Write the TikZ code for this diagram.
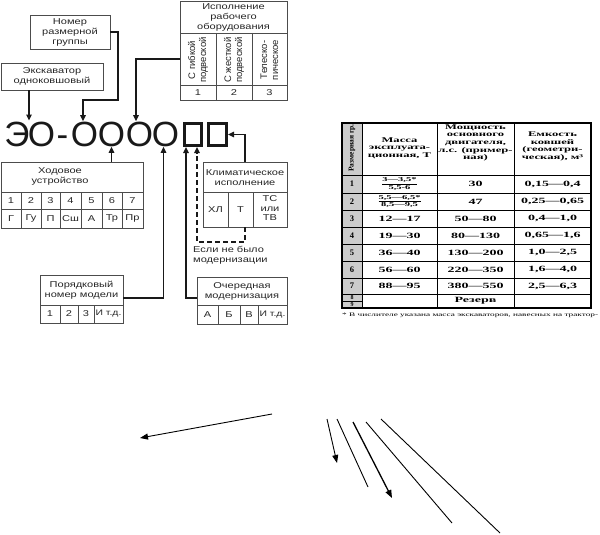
\documentclass[tikz,border=0pt]{standalone}
\usepackage{fontspec}
\setmainfont{Liberation Sans}
\newfontfamily\lblfont[FakeStretch=1.3]{Liberation Sans}
\newfontfamily\tabfont[FakeStretch=1.75]{Liberation Serif}
\newfontfamily\tabfontn{Liberation Serif}
\usetikzlibrary{arrows.meta}
\begin{document}
\begin{tikzpicture}[x=1pt,y=-1pt,
 box/.style={draw=black!70, line width=0.7pt, inner sep=0pt, rectangle},
 grid/.style={draw=black!70, line width=0.6pt},
 lbl/.style={font=\lblfont\fontsize{8.5}{10}\selectfont, text=black!85, align=center, inner sep=0pt},
 rlbl/.style={font=\fontsize{9.5}{11}\selectfont, text=black!85, align=center, inner sep=0pt, rotate=90},
 conn/.style={line width=1.5pt, draw=black!90, -{Triangle[length=6pt,width=5.5pt]}},
 big/.style={font=\fontsize{35}{35}\selectfont, inner sep=0pt, text height=25.2pt, text depth=0pt, text=black!90},
 sq/.style={draw=black!90, line width=3pt, inner sep=0pt, minimum height=22pt},
 th/.style={font=\tabfont\bfseries\fontsize{7.2}{7.6}\selectfont, align=center, inner sep=0pt},
 td/.style={font=\tabfont\bfseries\fontsize{8}{9}\selectfont, inner sep=0pt},
 tf/.style={font=\tabfont\bfseries\fontsize{6}{6.8}\selectfont, align=center, inner sep=0pt},
 tn/.style={font=\tabfontn\bfseries\fontsize{8.5}{9}\selectfont, inner sep=0pt},
 tl/.style={line width=0.6pt, draw=black},
 plainline/.style={line width=0.9pt, draw=black},
 parr/.style={line width=0.9pt, draw=black, -{Triangle[length=8pt,width=6pt]}}
]
\useasboundingbox (0,0) rectangle (600,535);
\fill[white] (0,0) rectangle (600,535);

% ---------- label boxes ----------
\node[box, lbl, minimum width=80pt, minimum height=34pt] (nom) at (70,32) {Номер\\размерной\\группы};
\node[box, lbl, minimum width=102pt, minimum height=27pt] (ex) at (52,76.5) {Экскаватор\\одноковшовый};

% Исполнение рабочего оборудования
\node[box, minimum width=107pt, minimum height=99pt] (isp) at (233.5,50.5) {};
\node[lbl] (ispt) at (233.5,17) {Исполнение\\рабочего\\оборудования};
\draw[grid] (180,33) -- (287,33) (180,85) -- (287,85) (216,33) -- (216,100) (252,33) -- (252,100);
\node[rlbl] (r1) at (198,60) {С гибкой\\подвеской};
\node[rlbl] (r2) at (234,60) {С жесткой\\подвеской};
\node[rlbl] (r3) at (269.5,60) {Телеско-\\пическое};
\node[lbl] (n1) at (198,92.5) {1};
\node[lbl] (n2) at (234,92.5) {2};
\node[lbl] (n3) at (269.5,92.5) {3};

% ---------- big designation ----------
\node[big] (e1) at (17,134) {Э};
\node[big] (e2) at (41.5,134) {О};
\node[big] (e3) at (62.5,134) {-};
\node[big] (o1) at (84.5,134) {О};
\node[big] (o2) at (111.5,134) {О};
\node[big] (o3) at (139.5,134) {О};
\node[big] (o4) at (165.5,134) {О};
\node[sq, minimum width=17pt] (sq1) at (193,134.5) {};
\node[sq, minimum width=18pt] (sq2) at (217.5,134.5) {};

% Ходовое устройство
\node[box, minimum width=142pt, minimum height=66pt] (hod) at (72,195) {};
\node[lbl] (hodt) at (60,176.5) {Ходовое\\устройство};
\draw[grid] (1,192) -- (143,192) (1,209) -- (143,209);
\foreach \x in {21,41,60,81,102,122} \draw[grid] (\x,192) -- (\x,228);
\foreach \x/\n/\l in {11/1/Г, 31/2/Гу, 50.5/3/П, 70.5/4/Сш, 91.5/5/А, 112/6/Тр, 132.5/7/Пр}
 { \node[lbl] at (\x,200.5) {\n}; \node[lbl] at (\x,218.5) {\l}; }

% Климатическое исполнение
\node[box, minimum width=84pt, minimum height=65pt] (klim) at (245,194.5) {};
\node[lbl] (klimt) at (245,178) {Климатическое\\исполнение};
\draw[grid] (203,192) -- (287,192) (228,192) -- (228,227) (253,192) -- (253,227);
\node[lbl] (k1) at (215.5,210) {ХЛ};
\node[lbl] (k2) at (240.5,210) {Т};
\node[lbl, font=\lblfont\fontsize{8.5}{9.5}\selectfont] (k3) at (270,208.5) {ТС\\или\\ТВ};

\node[lbl, align=left, anchor=north west] (esli) at (193,246) {Если не было\\модернизации};

% Порядковый номер модели
\node[box, minimum width=83pt, minimum height=48pt] (por) at (81.5,299) {};
\node[lbl] (port) at (81.5,290) {Порядковый\\номер модели};
\draw[grid] (40,305) -- (123,305) (60,305) -- (60,323) (78,305) -- (78,323) (94,305) -- (94,323);
\node[lbl] at (50,314) {1};
\node[lbl] at (69,314) {2};
\node[lbl] at (86,314) {3};
\node[lbl, font=\lblfont\fontsize{8}{9}\selectfont] at (108.5,314) {И т.д.};

% Очередная модернизация
\node[box, minimum width=90pt, minimum height=47pt] (och) at (242,300.5) {};
\node[lbl] (ocht) at (242,291) {Очередная\\модернизация};
\draw[grid] (197,305) -- (287,305) (218,305) -- (218,324) (240,305) -- (240,324) (258,305) -- (258,324);
\node[lbl] at (207.5,314.5) {А};
\node[lbl] at (229,314.5) {Б};
\node[lbl] at (249,314.5) {В};
\node[lbl, font=\lblfont\fontsize{8}{9}\selectfont] at (272.5,314.5) {И т.д.};

% ---------- connectors ----------
\coordinate (exarr) at (29,120.5);
\draw[conn] (ex.south -| exarr) -- (exarr);
\draw[conn] (nom.east) -| (118,100) -| ([xshift=-1.5pt]o1.north);
\coordinate (ispy) at (0,59);
\draw[conn] (isp.west |- ispy) -| ([xshift=-3.5pt]o3.north);
\draw[conn] (hod.north -| o2.south) -- (o2.south);
\coordinate (kx) at (245,0);
\draw[conn] (klim.north -| kx) |- (sq2.east);
\coordinate (dc) at (197,242);
\draw[conn, dashed, dash pattern=on 5pt off 3pt] (klim.south -| kx) |- (dc) -- (sq1.south -| dc);
\coordinate (py) at (0,298);
\draw[conn] (por.east |- py) -| ([xshift=-2pt]o4.south);
\draw[conn] (och.west |- py) -| ([xshift=3pt]sq1.south west);

% ---------- right table ----------
\fill[black!20] (342,123) rectangle (362,308);
\foreach \y in {175,193,210,227,244,261,278,294} \draw[tl] (342,\y) -- (591,\y);
\draw[tl] (342,301) -- (362,301);
\foreach \x in {362,437,514} \draw[tl] (\x,123) -- (\x,308);
\draw[line width=1.6pt] (342,123) rectangle (591,308);

\node[rotate=90, font=\tabfontn\bfseries\fontsize{7.5}{8}\selectfont, inner sep=0pt] (h1) at (352,148) {Размерная гр.};
\node[th] (h2) at (399.5,148) {Масса\\эксплуата-\\ционная, Т};
\node[th] (h3) at (475.5,143) {Мощность\\основного\\двигателя,\\л.с. (пример-\\ная)};
\node[th] (h4) at (552.5,146.5) {Емкость\\ковшей\\(геометри-\\ческая), м³};

\node[tn] at (352,184) {1};
\node[tf] at (399.5,184) {\underline{3—3,5*}\\5,5-6};
\node[td] at (475.5,184) {30};
\node[td] at (552.5,184) {0,15—0,4};

\node[tn] at (352,201.5) {2};
\node[tf] at (399.5,201.5) {\underline{5,5—6,5*}\\8,5—9,5};
\node[td] at (475.5,201.5) {47};
\node[td] at (552.5,201.5) {0,25—0,65};

\foreach \y/\n/\a/\b/\c in {218.5/3/{12—17}/{50—80}/{0,4—1,0}, 235.5/4/{19—30}/{80—130}/{0,65—1,6},
  252.5/5/{36—40}/{130—200}/{1,0—2,5}, 269.5/6/{56—60}/{220—350}/{1,6—4,0}, 286/7/{88—95}/{380—550}/{2,5—6,3}}
 { \node[tn] at (352,\y) {\n}; \node[td] at (399.5,\y) {\a}; \node[td] at (475.5,\y) {\b}; \node[td] at (552.5,\y) {\c}; }

\node[tn, font=\tabfontn\bfseries\fontsize{6}{6}\selectfont] at (352,297.5) {8};
\node[tn, font=\tabfontn\bfseries\fontsize{6}{6}\selectfont] at (352,304.5) {9};
\node[td] at (475.5,301) {Резерв};

\node[font=\tabfont\fontsize{5.3}{6}\selectfont, anchor=west, inner sep=0pt] (fn) at (342,315) {* В числителе указана масса экскаваторов, навесных на трактор-};

% ---------- loose arrows and lines ----------
\coordinate (a1s) at (272,414); \coordinate (a1e) at (140,438);
\coordinate (a2s) at (327,419); \coordinate (a2e) at (337,463);
\coordinate (l3s) at (337,419); \coordinate (l3e) at (368,487);
\coordinate (a4s) at (353,422); \coordinate (a4e) at (392,498);
\coordinate (l5s) at (366,422); \coordinate (l5e) at (452,523);
\coordinate (l6s) at (381,419); \coordinate (l6e) at (500,533);
\draw[parr] (a1s) -- (a1e);
\draw[parr] (a2s) -- (a2e);
\draw[plainline] (l3s) -- (l3e);
\draw[parr, line width=1.3pt] (a4s) -- (a4e);
\draw[plainline] (l5s) -- (l5e);
\draw[plainline] (l6s) -- (l6e);
\end{tikzpicture}
\end{document}
